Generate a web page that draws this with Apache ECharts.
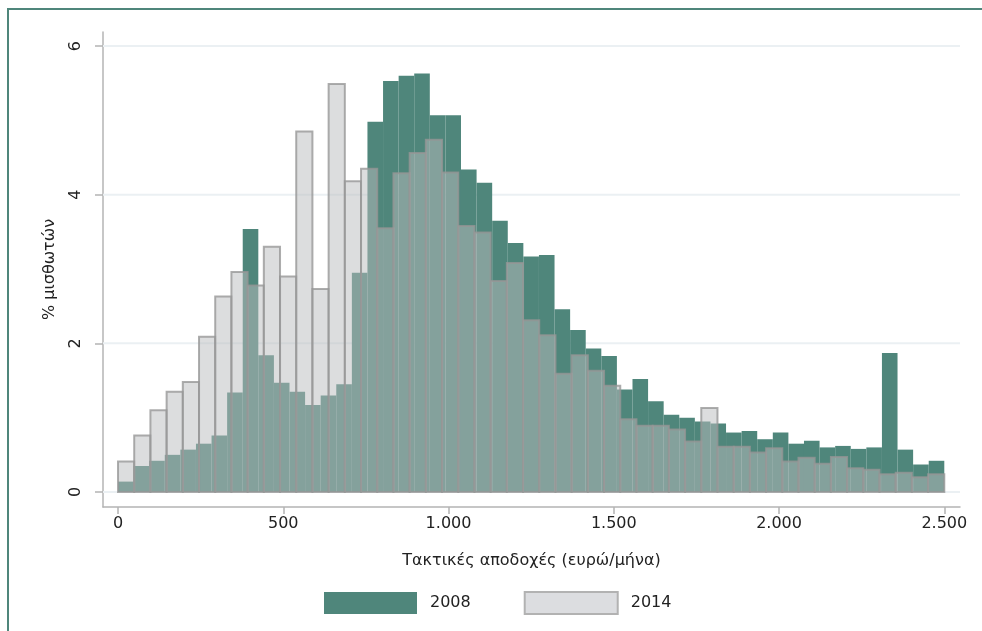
<!DOCTYPE html>
<html><head><meta charset="utf-8">
<script src="https://cdn.jsdelivr.net/npm/echarts@6/dist/echarts.min.js"></script>
<style>
html,body{margin:0;padding:0;background:#fff;}
#c{position:absolute;left:0;top:0;width:982px;height:631px;}
#f{position:absolute;left:7px;top:8px;right:0;bottom:0;border-top:2px solid #4f867b;border-left:2px solid #4f867b;pointer-events:none;}
</style>
</head><body><div id="c"></div><div id="f"></div>
<script>
// Histogram range (euro/month)
const rangeMin = 0, rangeMax = 2500;
// % of employees per bin, 2008 (53 equal bins) and 2014 (51 equal bins)
const values2008 = [
  0.14,0.35,0.42,0.50,0.57,0.65,0.76,1.34,3.54,1.84,
  1.47,1.35,1.17,1.30,1.45,2.95,4.98,5.53,5.60,5.63,
  5.07,5.07,4.34,4.16,3.65,3.35,3.17,3.19,2.46,2.18,
  1.93,1.83,1.38,1.52,1.22,1.04,1.00,0.95,0.92,0.80,
  0.82,0.71,0.80,0.65,0.69,0.60,0.62,0.58,0.60,1.87,
  0.57,0.37,0.42
];
const values2014 = [
  0.41,0.76,1.10,1.35,1.48,2.09,2.63,2.96,2.78,3.30,
  2.90,4.85,2.73,5.49,4.18,4.35,3.55,4.29,4.56,4.74,
  4.30,3.58,3.49,2.84,3.08,2.31,2.11,1.59,1.84,1.63,
  1.43,0.98,0.89,0.89,0.84,0.68,1.13,0.61,0.61,0.53,
  0.59,0.41,0.46,0.38,0.47,0.32,0.30,0.24,0.26,0.20,
  0.24
];
const seriesNames = ['2008','2014'];
const xTickValues = [0,500,1000,1500,2000,2500];
const xTickLabels = ['0','500','1.000','1.500','2.000','2.500'];
const yTickValues = [0,2,4,6];
const yTickLabels = ['0','2','4','6'];
const xTitle = 'Τακτικές αποδοχές (ευρώ/μήνα)';
const yTitle = '% μισθωτών';

const TEAL = '#4f867b';
const FONT = 'DejaVu Sans';
const FS = 16;

function toBins(vals){
  const w = (rangeMax - rangeMin) / vals.length;
  return vals.map((v,i)=>[rangeMin + i*w, rangeMin + (i+1)*w, v]);
}
function barRender(style){
  return function(params, api){
    const p0 = api.coord([api.value(0), api.value(2)]);
    const p1 = api.coord([api.value(1), 0]);
    return {type:'rect', shape:{x:p0[0], y:p0[1], width:p1[0]-p0[0], height:p1[1]-p0[1]}, style: style};
  };
}
const XMIN = -45.4, XMAX = 2547.5, YMIN = -0.2018, YMAX = 6.189;

const chart = echarts.init(document.getElementById('c'), null, {renderer:'canvas'});
chart.setOption({
  animation:false,
  backgroundColor:'#ffffff',
  textStyle:{fontFamily:FONT},
  grid:{left:103, right:22, top:32, bottom:124},
  xAxis:{
    type:'value', min:XMIN, max:XMAX,
    name:xTitle, nameLocation:'middle', nameGap:46,
    nameTextStyle:{fontSize:FS, color:'#222', fontFamily:FONT},
    axisLine:{onZero:false, lineStyle:{color:'#b4b4b4', width:1.5}},
    axisTick:{customValues:xTickValues, length:7, lineStyle:{color:'#b4b4b4', width:1.5}},
    axisLabel:{customValues:xTickValues, formatter:v=>xTickLabels[xTickValues.indexOf(v)], margin:9, fontSize:FS, color:'#222', fontFamily:FONT},
    splitLine:{show:false}
  },
  yAxis:{
    type:'value', min:YMIN, max:YMAX,
    name:yTitle, nameLocation:'middle', nameGap:45, nameRotate:90,
    nameTextStyle:{fontSize:FS, color:'#222', fontFamily:FONT},
    axisLine:{onZero:false, lineStyle:{color:'#b4b4b4', width:1.5}},
    axisTick:{customValues:yTickValues, length:8, lineStyle:{color:'#b4b4b4', width:1.5}},
    axisLabel:{customValues:yTickValues, formatter:v=>yTickLabels[yTickValues.indexOf(v)], rotate:90, margin:19, fontSize:FS, color:'#222', fontFamily:FONT},
    splitLine:{show:false}
  },
  legend:{
    left:319, top:586, itemWidth:93, itemHeight:22, itemGap:53, icon:'rect',
    textStyle:{fontSize:FS, color:'#222', fontFamily:FONT, padding:[0,0,0,8]},
    data:[
      {name:seriesNames[0], itemStyle:{color:TEAL, borderWidth:0}},
      {name:seriesNames[1], itemStyle:{color:'#dcdde0', borderColor:'#b2b2b2', borderWidth:2}}
    ]
  },
  series:[
    {
      type:'custom', name:'grid', silent:true, z:1,
      renderItem:function(params, api){
        const a = api.coord([XMIN, api.value(0)]);
        const b = api.coord([XMAX, api.value(0)]);
        return {type:'line', shape:{x1:a[0], y1:a[1], x2:b[0], y2:b[1]}, style:{stroke:'#ebf0f3', lineWidth:2}};
      },
      encode:{y:0},
      data:yTickValues.map(v=>[v])
    },
    {
      type:'custom', name:seriesNames[0], z:2,
      renderItem:barRender({fill:TEAL}),
      encode:{x:[0,1], y:2},
      data:toBins(values2008)
    },
    {
      type:'custom', name:seriesNames[1], z:3,
      renderItem:barRender({fill:'rgba(185,187,190,0.5)', stroke:'rgba(150,150,150,0.78)', lineWidth:2}),
      encode:{x:[0,1], y:2},
      data:toBins(values2014)
    }
  ]
});
</script>
</body></html>
